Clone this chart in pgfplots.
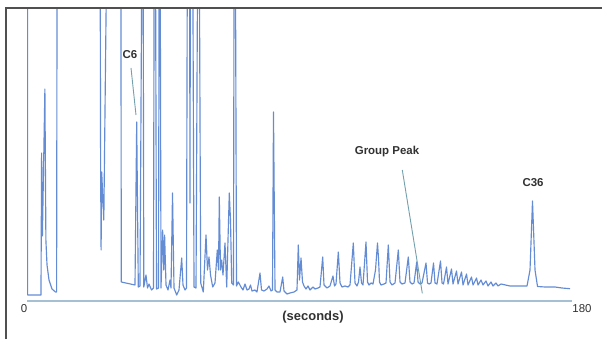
\documentclass[border=0pt]{standalone}
\usepackage{pgfplots}
\pgfplotsset{compat=1.18}
\usepackage{fontspec}
\setmainfont{Liberation Sans}
\definecolor{trace}{RGB}{100,140,212}
\definecolor{axline}{RGB}{165,192,210}
\definecolor{framec}{RGB}{80,80,80}
\definecolor{lbl}{RGB}{50,50,50}
\definecolor{pointer}{RGB}{115,160,172}
\begin{document}
\begin{tikzpicture}[x=1bp,y=1bp]
\path[use as bounding box, fill=white] (0,0) rectangle (602,339);
\begin{axis}[
 at={(27bp,38bp)}, anchor=south west,
 scale only axis, width=545bp, height=293bp,
 xmin=0, xmax=180, ymin=0, ymax=293,
 axis y line=none, axis x line*=bottom,
 axis line style={axline, line width=1.7bp, -},
 xtick={0,180}, xticklabels={0\hspace*{6bp},\hspace*{20bp}180},
 major tick length=0pt,
 ytick=\empty,
 /pgf/number format/assume math mode=true,
 tick label style={font=\fontsize{11.5}{13}\selectfont, text=lbl},
 xlabel={(seconds)},
 xlabel style={at={(axis description cs:0.5248,0)}, anchor=center, yshift=-15.7bp, font=\fontsize{13}{15}\selectfont\bfseries, text=lbl},
]
\addplot[trace, line width=1.15bp, line join=round] coordinates {
(0.2,420) (0.2,6) (4.62,6) (4.82,148) (5.09,65) (5.91,212) (6.24,61) (6.61,36) (7.27,21) (8.26,12) (9.41,9) (9.78,9) (9.97,420)
(24.11,420) (24.31,138) (24.47,51) (24.67,129) (25.37,81) (26.59,420)
(30.98,420) (31.14,19) (35.67,16) (36.23,179) (36.76,14) (37.32,15) (38.08,420) (38.31,420) (38.58,14) (39.30,26) (39.80,13) (40.29,17) (41.12,11) (41.78,13) (42.04,420) (42.37,420) (42.77,12) (43.43,13) (43.70,420) (43.93,420) (44.26,13) (44.79,71) (45.18,31) (45.45,66) (45.91,16) (46.57,11) (47.23,21) (47.56,13) (48.06,108) (48.55,13) (49.44,6) (50.20,11) (51.09,43) (51.52,16) (52.18,11) (52.68,13) (53.01,420) (53.67,420) (53.83,98) (54.00,420) (54.66,420) (55.16,14) (55.82,13) (56.48,420) (56.81,420) (57.37,18) (58.23,9) (59.12,66) (59.61,31) (60.11,44) (60.61,26) (61.33,14) (62.09,18) (62.85,51) (63.25,31) (63.51,104) (63.91,31) (64.30,41) (64.73,26) (65.39,58) (65.96,14) (66.81,108) (67.21,81) (67.61,18) (68.20,16) (68.43,420) (68.76,420) (69.19,15) (69.79,19) (70.68,14) (71.34,11) (72.00,17) (72.66,11) (73.32,12) (73.82,16) (74.31,10) (75.30,11) (75.96,9) (76.95,28) (77.45,11) (78.28,10) (79.27,12) (79.93,15) (80.59,10) (81.08,11) (81.41,189) (81.91,11) (82.57,9) (83.56,9) (84.45,24) (84.88,10) (85.87,7) (86.86,8) (88.18,9) (89.17,11) (89.60,56) (90.00,21) (90.50,43) (90.99,19) (91.49,15) (92.15,12) (92.81,15) (93.47,11) (94.46,14) (95.12,12) (96.11,13) (96.77,14) (97.66,44) (98.09,16) (99.08,13) (100.07,15) (101.06,25) (101.56,15) (102.05,17) (102.82,49) (103.38,18) (104.04,14) (105.03,15) (106.02,14) (106.68,16) (107.77,58) (108.33,18) (108.99,15) (109.49,19) (109.98,34) (110.48,18) (110.97,16) (111.96,59) (112.46,19) (112.95,16) (113.61,18) (114.27,17) (115.10,31) (115.76,58) (116.09,43) (116.42,19) (116.92,16) (117.91,17) (118.57,18) (119.33,56) (119.89,19) (120.55,16) (121.54,18) (122.63,51) (123.19,19) (123.85,17) (124.84,18) (125.93,44) (126.49,19) (127.16,17) (127.82,18) (128.71,39) (129.14,19) (129.80,17) (130.46,18)
(131.78,38) (132.28,18) (132.77,17) (133.43,18) (134.26,38) (134.75,18) (135.41,17) (136.57,40) (137.07,18) (137.56,17) (138.55,34) (139.05,17) (140.20,32) (140.70,17) (141.85,30) (142.35,17) (143.51,29) (144.00,16) (145.16,27) (145.65,16) (146.81,24) (147.31,16) (148.46,23) (148.96,16) (149.95,21) (150.61,16) (151.60,20) (152.26,15) (153.25,19) (153.91,15) (154.90,18) (155.56,15) (156.55,17) (159.52,15) (162.83,15) (165.14,15) (166.13,31) (166.95,100) (167.78,31) (168.61,14.5) (171.08,14) (174.39,14) (176.70,13) (179.34,12.3)
};
\draw[pointer, line width=0.9bp] (axis cs:34.35,233) -- (axis cs:36.0,186);
\draw[pointer, line width=0.9bp] (axis cs:123.95,131) -- (axis cs:130.56,7.7);
\node[font=\fontsize{11.5}{13}\selectfont\bfseries, text=lbl] at (axis cs:34.02,246) {C6};
\node[font=\fontsize{11.5}{13}\selectfont\bfseries, text=lbl] at (axis cs:118.90,149) {Group Peak};
\node[font=\fontsize{11.5}{13}\selectfont\bfseries, text=lbl] at (axis cs:167.12,118) {C36};
\end{axis}
\draw[framec, line width=1.5bp] (6,0) -- (6,331) -- (602,331);
\end{tikzpicture}
\end{document}
